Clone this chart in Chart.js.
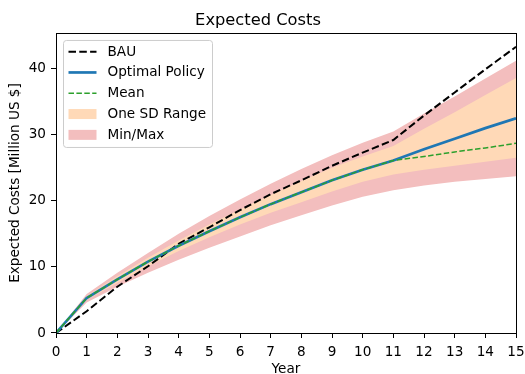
<!DOCTYPE html>
<html>
<head>
<meta charset="utf-8">
<script src="https://cdn.jsdelivr.net/npm/chart.js@4.4.1/dist/chart.umd.min.js"></script>
<style>
  html, body { margin: 0; padding: 0; background: #fff; }
  #wrap { width: 525px; height: 374px; }
</style>
</head>
<body>
<div id="wrap"><canvas id="costChart" width="525" height="374"></canvas></div>
<script>
const years = [0, 1, 2, 3, 4, 5, 6, 7, 8, 9, 10, 11, 12, 13, 14, 15];
const bau     = [0, 3.3, 7.0, 10.1, 13.5, 16.0, 18.6, 21.0, 23.1, 25.3, 27.3, 29.2, 32.9, 36.4, 39.9, 43.3];
const optimal = [0, 5.3, 8.1, 10.8, 13.2, 15.4, 17.5, 19.5, 21.3, 23.1, 24.7, 26.1, 27.8, 29.4, 31.0, 32.5];
const mean    = [0, 5.3, 8.1, 10.8, 13.2, 15.4, 17.5, 19.5, 21.3, 23.1, 24.7, 26.1, 26.7, 27.4, 28.0, 28.7];
const sdUpper = [0, 5.6, 8.6, 11.4, 14.0, 16.4, 18.7, 20.9, 23.0, 25.0, 26.7, 28.3, 30.9, 33.4, 36.0, 38.6];
const sdLower = [0, 5.0, 7.6, 10.1, 12.4, 14.5, 16.4, 18.2, 19.8, 21.4, 22.9, 24.0, 24.7, 25.3, 25.9, 26.5];
const maxCost = [0, 5.9, 9.1, 12.1, 15.0, 17.7, 20.2, 22.6, 24.8, 26.9, 28.8, 30.5, 33.2, 35.8, 38.5, 41.2];
const minCost = [0, 4.6, 7.0, 9.1, 11.1, 12.9, 14.6, 16.3, 17.8, 19.3, 20.6, 21.6, 22.3, 22.9, 23.3, 23.7];
const yTicks = [0, 10, 20, 30, 40];

const FONT = 'DejaVu Sans';
const pink = 'rgb(243, 190, 190)';
const peach = 'rgb(255, 217, 183)';

const pts = arr => years.map((x, i) => ({ x: x, y: arr[i] }));

Chart.defaults.color = '#000';
Chart.defaults.font.family = FONT;
Chart.defaults.font.size = 13.6;

const legendEntries = [
    { text: 'BAU', kind: 'line', color: '#000', width: 2, dash: [7.5, 3.3] },
    { text: 'Optimal Policy', kind: 'line', color: '#1f77b4', width: 2.7, dash: [] },
    { text: 'Mean', kind: 'line', color: '#2ca02c', width: 1.5, dash: [5.5, 2.4] },
    { text: 'One SD Range', kind: 'patch', color: peach },
    { text: 'Min/Max', kind: 'patch', color: pink }
];

// frame around the plot area + legend box in the upper left corner
const frameAndLegend = {
    id: 'frameAndLegend',
    afterDraw(chart) {
        const { ctx, chartArea: a } = chart;
        ctx.save();
        ctx.strokeStyle = '#000';
        ctx.lineWidth = 1;
        ctx.strokeRect(Math.round(a.left) + 0.5, Math.round(a.top) + 0.5,
            Math.round(a.right - a.left), Math.round(a.bottom - a.top));

        const bx = a.left + 7.5, by = a.top + 7.5, bw = 149, bh = 107;
        ctx.fillStyle = 'rgba(255,255,255,0.8)';
        ctx.strokeStyle = '#cccccc';
        ctx.beginPath();
        ctx.roundRect(bx, by, bw, bh, 3);
        ctx.fill();
        ctx.stroke();

        ctx.font = '13.6px "' + FONT + '"';
        ctx.textBaseline = 'middle';
        ctx.textAlign = 'left';
        legendEntries.forEach((e, i) => {
            const cy = a.top + 18.7 + i * 20.8;
            if (e.kind === 'line') {
                ctx.strokeStyle = e.color;
                ctx.lineWidth = e.width;
                ctx.setLineDash(e.dash);
                ctx.beginPath();
                ctx.moveTo(a.left + 12.5, cy);
                ctx.lineTo(a.left + 40.5, cy);
                ctx.stroke();
                ctx.setLineDash([]);
            } else {
                ctx.fillStyle = e.color;
                ctx.fillRect(a.left + 12.5, cy - 5, 28, 10);
            }
            ctx.fillStyle = '#000';
            ctx.fillText(e.text, a.left + 51.5, cy + 0.5);
        });
        ctx.restore();
    }
};

const noLine = { borderWidth: 0, pointRadius: 0, tension: 0 };

new Chart(document.getElementById('costChart'), {
    type: 'line',
    data: {
        datasets: [
            { label: 'Mean', data: pts(mean), borderColor: '#2ca02c', borderWidth: 1.5,
              borderDash: [5.5, 2.4], pointRadius: 0, fill: false, order: 0 },
            { label: 'Optimal Policy', data: pts(optimal), borderColor: '#1f77b4', borderWidth: 2.7,
              pointRadius: 0, fill: false, order: 1 },
            { label: 'BAU', data: pts(bau), borderColor: '#000', borderWidth: 2,
              borderDash: [7.5, 3.3], pointRadius: 0, fill: false, order: 2 },
            { label: 'One SD Range', data: pts(sdUpper), ...noLine, backgroundColor: peach,
              fill: { target: 4 }, order: 3 },
            { label: 'sd low', data: pts(sdLower), ...noLine, fill: false, order: 4 },
            { label: 'Min/Max', data: pts(maxCost), ...noLine, backgroundColor: pink,
              fill: { target: 6 }, order: 5 },
            { label: 'min', data: pts(minCost), ...noLine, fill: false, order: 6 }
        ]
    },
    options: {
        responsive: false,
        animation: false,
        devicePixelRatio: 1,
        layout: { padding: { left: 0, right: 9, top: 0, bottom: 0 } },
        plugins: {
            legend: { display: false },
            tooltip: { enabled: false },
            filler: { drawTime: 'beforeDatasetsDraw' },
            title: {
                display: true,
                text: 'Expected Costs',
                font: { size: 16.3, weight: 'normal' },
                padding: { top: 11, bottom: 2.4 }
            }
        },
        scales: {
            x: {
                type: 'linear',
                min: 0,
                max: 15,
                afterFit: s => { s.height = 41; s.paddingLeft = 0; s.paddingRight = 0; },
                border: { display: false },
                grid: { drawOnChartArea: false, drawTicks: true, tickLength: 5, tickColor: '#000' },
                ticks: { stepSize: 1, padding: 6, maxRotation: 0, autoSkip: false },
                title: { display: true, text: 'Year', padding: { top: 0, bottom: -4 } }
            },
            y: {
                type: 'linear',
                min: 0,
                max: 45.4,
                afterFit: s => { s.width = 56; s.paddingTop = 0; s.paddingBottom = 0; },
                afterBuildTicks: s => { s.ticks = yTicks.map(v => ({ value: v })); },
                border: { display: false },
                grid: { drawOnChartArea: false, drawTicks: true, tickLength: 5, tickColor: '#000' },
                ticks: { padding: 5 },
                title: { display: true, text: 'Expected Costs [Million US $]', padding: { top: 7, bottom: 0 } }
            }
        }
    },
    plugins: [frameAndLegend]
});
</script>
</body>
</html>
